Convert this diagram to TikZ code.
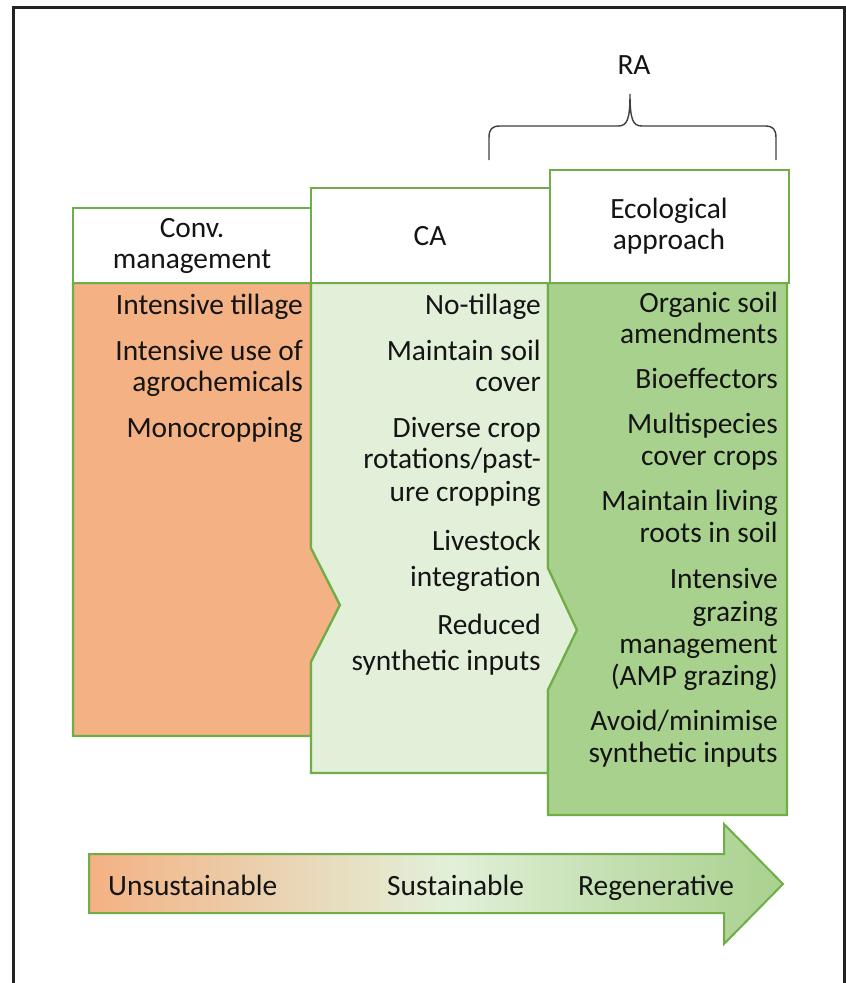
\documentclass[tikz,border=0pt]{standalone}
\usepackage{fontspec}
\setmainfont{Carlito}
\definecolor{orng}{HTML}{F4B183}
\definecolor{lgrn}{HTML}{E2F0D9}
\definecolor{mgrn}{HTML}{A9D18E}
\definecolor{bgrn}{HTML}{70AD47}
\definecolor{txt}{HTML}{141414}
\definecolor{frm}{HTML}{222222}
\pgfdeclarehorizontalshading{scaleshade}{100bp}{%
  color(0bp)=(orng);
  color(25bp)=(orng);
  color(35bp)=(orng!60!lgrn);
  color(44bp)=(orng!25!lgrn);
  color(51bp)=(lgrn);
  color(63bp)=(lgrn!45!mgrn);
  color(75bp)=(mgrn);
  color(100bp)=(mgrn)}
\begin{document}
\begin{tikzpicture}[x=1pt,y=-1pt,
  txtfont/.style={font=\fontsize{29.4}{31}\selectfont, text=txt, inner sep=0pt},
  itemtxt/.style={txtfont, anchor=base east},
  headtxt/.style={txtfont, anchor=base},
  bodybox/.style={draw=bgrn, line width=2.2pt, line join=miter},
  headbox/.style={draw=bgrn, fill=white, line width=2.8pt},
  bracepath/.style={draw=black!75, line width=1.4pt}]
\useasboundingbox (0,0) rectangle (846,983);
\fill[white] (0,0) rectangle (846,983);
% frame
\draw[frm, line width=3pt] (13.5,995) -- (13.5,7.5) -- (844.5,7.5) -- (844.5,995);

% bodies
\path[bodybox, fill=orng] (73,283) -- (311,283) -- (311,548) -- (340,605) -- (311,662) -- (311,736) -- (73,736) -- cycle;
\path[bodybox, fill=lgrn] (311,283) -- (548,283) -- (548,568) -- (577,630) -- (548,690) -- (548,773) -- (311,773) -- (311,662) -- (340,605) -- (311,548) -- cycle;
\path[bodybox, fill=mgrn] (548,283) -- (787,283) -- (787,815) -- (548,815) -- (548,690) -- (577,630) -- (548,568) -- cycle;

% headers
\path[headbox] (73,208) rectangle (311,283);
\path[headbox] (311,188) rectangle (550,283);
\path[headbox] (550,170) rectangle (789,283);

\node[headtxt] (h1a) at (192,237) {Conv.};
\node[headtxt] (h1b) at (192,268) {management};
\node[headtxt] (h2) at (430,245) {CA};
\node[headtxt] (h3a) at (669,218) {Ecological};
\node[headtxt] (h3b) at (669,249) {approach};

% brace
\path[bracepath] (489,160) -- (489,138) .. controls (489,129) and (492,126) .. (500,126)
  -- (618,126) .. controls (627,126) and (630,120) .. (630,94)
  .. controls (630,120) and (633,126) .. (642,126)
  -- (765,126) .. controls (773,126) and (776,129) .. (776,138) -- (776,160);
\node[headtxt] (ra) at (634,74) {RA};

% conventional items
\node[itemtxt] (c1) at (303,314) {Intensive tillage};
\node[itemtxt] (c2) at (303,360) {Intensive use of};
\node[itemtxt] (c3) at (303,391) {agrochemicals};
\node[itemtxt] (c4) at (303,437) {Monocropping};

% CA items
\node[itemtxt] (a1) at (541,314) {No-tillage};
\node[itemtxt] (a2) at (541,360) {Maintain soil};
\node[itemtxt] (a3) at (541,391) {cover};
\node[itemtxt] (a4) at (541,437) {Diverse crop};
\node[itemtxt] (a5) at (541,468) {rotations/past-};
\node[itemtxt] (a6) at (541,501) {ure cropping};
\node[itemtxt] (a7) at (541,550) {Livestock};
\node[itemtxt] (a8) at (541,586) {integration};
\node[itemtxt] (a9) at (541,634) {Reduced};
\node[itemtxt] (a10) at (541,670) {synthetic inputs};

% ecological items
\node[itemtxt] (e1) at (778,312) {Organic soil};
\node[itemtxt] (e2) at (778,343) {amendments};
\node[itemtxt] (e3) at (778,388) {Bioeffectors};
\node[itemtxt] (e4) at (778,433) {Multispecies};
\node[itemtxt] (e5) at (778,465) {cover crops};
\node[itemtxt] (e6) at (778,510) {Maintain living};
\node[itemtxt] (e7) at (778,542) {roots in soil};
\node[itemtxt] (e8) at (778,588) {Intensive};
\node[itemtxt] (e9) at (778,621) {grazing};
\node[itemtxt] (e10) at (778,653) {management};
\node[itemtxt] (e11) at (778,685) {(AMP grazing)};
\node[itemtxt] (e12) at (778,730) {Avoid/minimise};
\node[itemtxt] (e13) at (778,762) {synthetic inputs};

% bottom arrow
\path[shading=scaleshade, draw=bgrn, line width=2pt, line join=miter]
  (89,854) -- (724,854) -- (724,824) -- (783,884) -- (724,944) -- (724,913) -- (89,913) -- cycle;
\node[txtfont, anchor=base west] (s1) at (108,895) {Unsustainable};
\node[txtfont, anchor=base west] (s2) at (387,895) {Sustainable};
\node[txtfont, anchor=base west] (s3) at (578,895) {Regenerative};
\end{tikzpicture}
\end{document}
